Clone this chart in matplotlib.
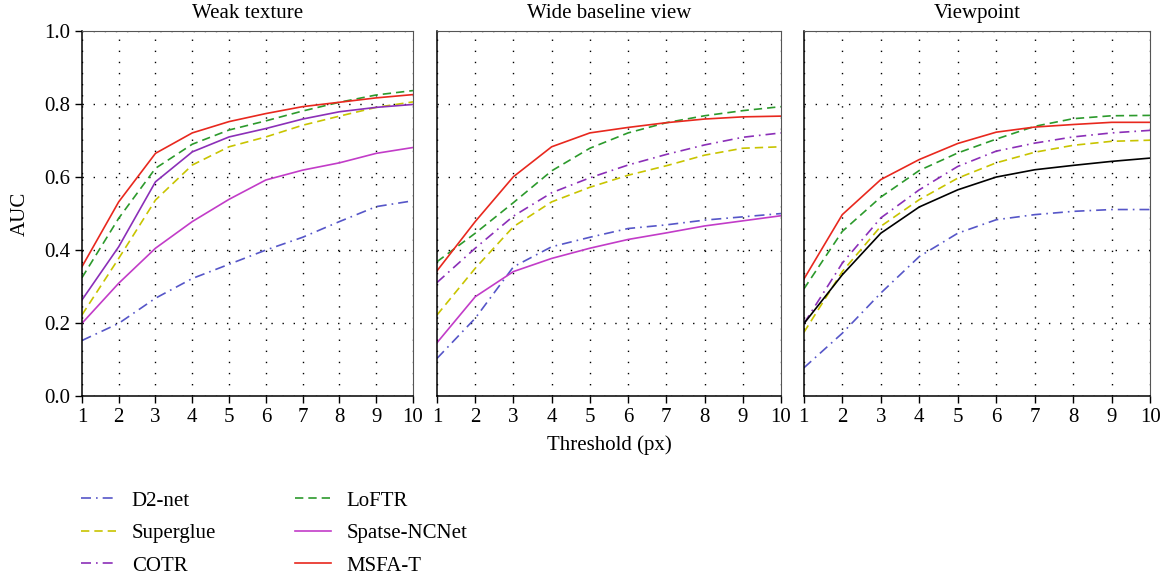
import matplotlib.pyplot as plt

plt.rcParams['font.family'] = ['Liberation Serif', 'DejaVu Serif']

# valores (AUC vs umbral)
x = [1, 2, 3, 4, 5, 6, 7, 8, 9, 10]

titles = ["Weak texture", "Wide baseline view", "Viewpoint"]

# Weak texture
d2_weak = [0.152, 0.199, 0.268, 0.322, 0.361, 0.400, 0.435, 0.478, 0.519, 0.535]
sg_weak = [0.222, 0.377, 0.537, 0.633, 0.683, 0.710, 0.742, 0.767, 0.791, 0.806]
cotr_weak = [0.263, 0.409, 0.587, 0.669, 0.710, 0.733, 0.759, 0.779, 0.791, 0.799]
loftr_weak = [0.324, 0.487, 0.624, 0.690, 0.729, 0.754, 0.781, 0.805, 0.825, 0.837]
ncnet_weak = [0.199, 0.309, 0.405, 0.478, 0.539, 0.592, 0.619, 0.639, 0.665, 0.681]
msfa_weak = [0.354, 0.532, 0.665, 0.721, 0.752, 0.774, 0.793, 0.805, 0.817, 0.826]

# Wide baseline view
d2_wide = [0.103, 0.213, 0.354, 0.409, 0.435, 0.459, 0.469, 0.482, 0.491, 0.500]
sg_wide = [0.222, 0.350, 0.464, 0.532, 0.572, 0.605, 0.631, 0.660, 0.679, 0.683]
cotr_wide = [0.311, 0.405, 0.493, 0.557, 0.598, 0.633, 0.662, 0.688, 0.709, 0.721]
loftr_wide = [0.368, 0.446, 0.530, 0.617, 0.679, 0.721, 0.749, 0.768, 0.782, 0.793]
ncnet_wide = [0.146, 0.272, 0.341, 0.377, 0.405, 0.429, 0.447, 0.466, 0.480, 0.494]
msfa_wide = [0.343, 0.478, 0.601, 0.683, 0.721, 0.736, 0.749, 0.759, 0.765, 0.767]

# Viewpoint
d2_view = [0.077, 0.172, 0.282, 0.382, 0.446, 0.483, 0.497, 0.506, 0.511, 0.511]
sg_view = [0.174, 0.341, 0.465, 0.538, 0.597, 0.639, 0.668, 0.687, 0.698, 0.701]
cotr_view = [0.198, 0.364, 0.488, 0.565, 0.629, 0.671, 0.693, 0.710, 0.721, 0.728]
loftr_view = [0.293, 0.451, 0.545, 0.618, 0.666, 0.704, 0.739, 0.760, 0.768, 0.769]
ncnet_view = [0.198, 0.332, 0.446, 0.518, 0.565, 0.600, 0.620, 0.632, 0.643, 0.652]
msfa_view = [0.320, 0.497, 0.593, 0.648, 0.692, 0.723, 0.737, 0.744, 0.750, 0.750]

names = ["D2-net", "Superglue", "COTR", "LoFTR", "Spatse-NCNet", "MSFA-T"]
colors = ["#5656c8", "#c8c400", "#8b2fb8", "#2c9a2c", "#c23cc8", "#e8281e"]
dashdot = (0, (6, 3, 1, 3))
dashed = (0, (5, 3))
styles = [dashdot, dashed, dashdot, dashed, "-", "-"]

data = [
    [d2_weak, sg_weak, cotr_weak, loftr_weak, ncnet_weak, msfa_weak],
    [d2_wide, sg_wide, cotr_wide, loftr_wide, ncnet_wide, msfa_wide],
    [d2_view, sg_view, cotr_view, loftr_view, ncnet_view, msfa_view],
]

fig = plt.figure(figsize=(11.7, 5.76), dpi=100)
boxes = [[0.070, 0.3125, 0.283, 0.6335],
         [0.3735, 0.3125, 0.294, 0.6335],
         [0.687, 0.3125, 0.296, 0.6335]]

handles = []
for p in range(3):
    ax = fig.add_axes(boxes[p])
    for i in range(6):
        c = colors[i]
        ls = styles[i]
        # en el primer panel COTR aparece en linea continua, en el tercero NCNet en negro
        if p == 0 and i == 2:
            ls = "-"
        if p == 2 and i == 4:
            c = "black"
        ln, = ax.plot(x, data[p][i], color=c, linestyle=ls, linewidth=1.2)
        if p == 1:
            handles.append(ln)
    ax.set_xlim(1, 10)
    ax.set_ylim(0, 1)
    ax.set_xticks(x)
    ax.set_yticks([0.0, 0.2, 0.4, 0.6, 0.8, 1.0])
    ax.grid(True, color="black", linestyle=(0, (1, 7)), linewidth=1.0)
    ax.text(0.5, 1.022, titles[p], transform=ax.transAxes, ha="center",
            va="bottom", fontsize=15)
    ax.tick_params(axis="both", labelsize=15, direction="out", length=5, width=1)
    for s in ["top", "right"]:
        ax.spines[s].set_color("#555555")
        ax.spines[s].set_linewidth(0.8)
    for s in ["left", "bottom"]:
        ax.spines[s].set_linewidth(1.1)
    if p == 0:
        ax.set_ylabel("AUC", fontsize=15, labelpad=10)
        ax.set_yticklabels(["0.0", "0.2", "0.4", "0.6", "0.8", "1.0"])
    else:
        ax.tick_params(axis="y", left=False, labelleft=False)
    if p == 1:
        ax.set_xlabel("Threshold (px)", fontsize=15, labelpad=6)

fig.legend(handles, names, loc="upper left", bbox_to_anchor=(0.053, 0.180), ncol=2,
           frameon=False, fontsize=15, handlelength=1.7, columnspacing=3.8,
           handletextpad=0.75, labelspacing=0.62)

fig.savefig("out.png", dpi=100)
